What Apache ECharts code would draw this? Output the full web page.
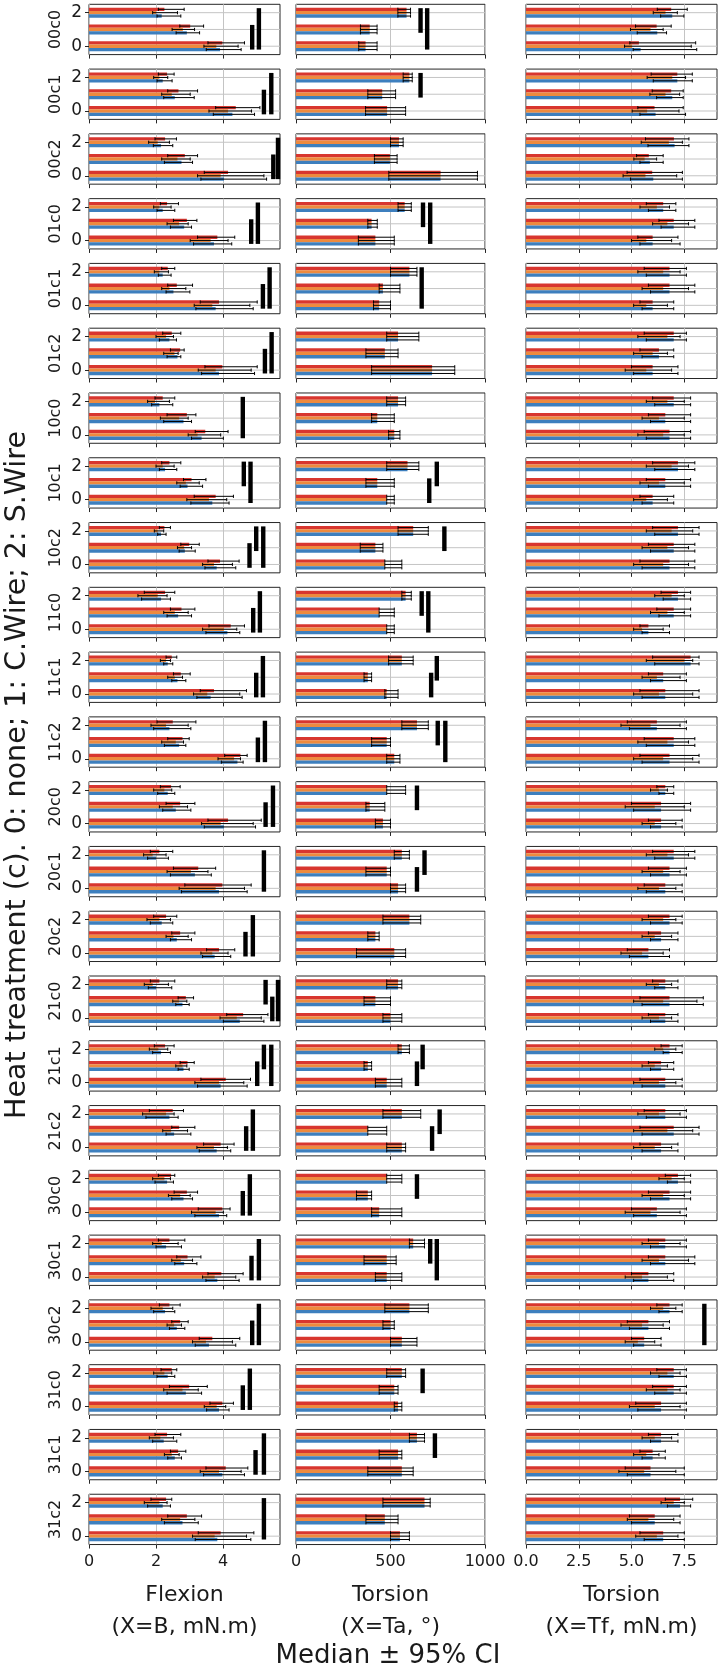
<!DOCTYPE html>
<html>
<head>
<meta charset="utf-8">
<script src="https://cdn.jsdelivr.net/npm/echarts@6/dist/echarts.min.js"></script>
<style>
html, body { margin: 0; padding: 0; background: #fff; }
#chart { width: 721px; height: 1666px; }
</style>
</head>
<body>
<div id="chart"></div>
<script>
// rows of the figure, top to bottom
var rowNames = ['00c0','00c1','00c2','01c0','01c1','01c2','10c0','10c1','10c2','11c0','11c1','11c2',
                '20c0','20c1','20c2','21c0','21c1','21c2','30c0','30c1','30c2','31c0','31c1','31c2'];
var catNames = ['0', '1', '2'];

// Flexion (X=B, mN.m) : per row, per category 0/1/2 -> [median, ci low, ci high]
var flexRed = [
 [[3.98,3.55,4.64],[3.02,2.71,3.42],[2.25,2.07,2.84]],
 [[4.38,3.78,5.10],[2.67,2.35,3.24],[2.33,2.07,2.54]],
 [[4.15,3.44,5.47],[2.86,2.35,3.24],[2.27,1.97,2.61]],
 [[3.83,3.24,4.35],[2.92,2.52,3.22],[2.33,2.13,2.67]],
 [[3.88,3.32,5.02],[2.62,2.35,3.09],[2.35,2.17,2.56]],
 [[3.98,3.46,5.02],[2.72,2.43,2.84],[2.47,2.20,2.74]],
 [[3.47,3.17,4.15],[2.92,2.33,3.19],[2.20,1.97,2.56]],
 [[3.78,3.14,4.31],[3.06,2.82,3.49],[2.40,2.17,2.74]],
 [[3.91,3.55,4.48],[2.99,2.74,3.29],[2.25,2.10,2.43]],
 [[4.23,3.58,4.64],[2.76,2.43,3.16],[2.27,1.65,2.56]],
 [[3.73,3.32,4.70],[2.74,2.52,3.02],[2.47,2.30,2.62]],
 [[4.52,4.05,4.72],[2.79,2.35,2.99],[2.50,2.03,3.19]],
 [[4.15,3.55,5.14],[2.72,2.30,3.16],[2.45,2.13,2.72]],
 [[3.98,2.86,4.84],[3.26,2.52,3.78],[2.10,1.83,2.50]],
 [[3.88,3.51,4.35],[2.72,2.47,3.16],[2.30,1.93,2.62]],
 [[4.60,4.11,5.34],[2.89,2.66,3.12],[2.10,1.83,2.56]],
 [[4.08,3.34,4.82],[2.94,2.72,3.14],[2.27,1.95,2.54]],
 [[3.93,3.42,4.33],[2.69,2.47,3.16],[2.50,1.80,2.82]],
 [[3.98,3.26,4.21],[2.92,2.54,3.24],[2.45,2.07,2.56]],
 [[3.95,3.55,4.60],[2.94,2.62,3.34],[2.40,2.07,2.86]],
 [[3.68,3.29,4.50],[2.72,2.47,2.96],[2.40,2.10,2.72]],
 [[3.98,3.61,4.31],[2.99,2.40,3.53],[2.47,2.15,2.62]],
 [[4.08,3.49,4.74],[2.66,2.43,2.89],[2.33,1.97,2.74]],
 [[3.93,3.26,4.92],[2.92,2.35,3.36],[2.30,1.85,2.47]]
];
var flexOrange = [
 [[3.80,3.43,4.45],[2.80,2.48,3.15],[2.00,1.90,2.64]],
 [[4.15,3.58,4.85],[2.47,2.17,3.02],[2.10,1.93,2.35]],
 [[3.93,3.24,5.22],[2.64,2.17,3.02],[2.05,1.78,2.40]],
 [[3.63,3.02,4.15],[2.69,2.33,2.96],[2.10,1.93,2.45]],
 [[3.68,3.14,4.80],[2.40,2.17,2.89],[2.10,1.95,2.37]],
 [[3.78,3.26,4.84],[2.55,2.23,2.66],[2.30,2.00,2.52]],
 [[3.24,2.96,3.93],[2.69,2.13,2.96],[1.97,1.75,2.40]],
 [[3.58,2.92,4.11],[2.89,2.62,3.29],[2.20,2.00,2.54]],
 [[3.73,3.39,4.28],[2.84,2.64,3.06],[2.05,1.95,2.23]],
 [[4.03,3.39,4.41],[2.56,2.23,2.96],[2.05,1.46,2.33]],
 [[3.53,3.12,4.50],[2.56,2.35,2.79],[2.30,2.13,2.43]],
 [[4.33,3.85,4.52],[2.59,2.17,2.82],[2.30,1.85,2.96]],
 [[3.93,3.36,4.90],[2.50,2.10,2.94],[2.25,1.93,2.47]],
 [[3.78,2.69,4.64],[3.04,2.33,3.55],[1.90,1.63,2.30]],
 [[3.68,3.34,4.15],[2.52,2.30,2.96],[2.10,1.73,2.43]],
 [[4.41,3.91,5.14],[2.69,2.50,2.92],[1.90,1.65,2.37]],
 [[3.88,3.16,4.62],[2.79,2.59,2.92],[2.07,1.80,2.35]],
 [[3.73,3.22,4.13],[2.45,2.20,2.94],[2.30,1.60,2.54]],
 [[3.78,3.06,4.01],[2.72,2.37,3.02],[2.25,1.90,2.43]],
 [[3.75,3.39,4.38],[2.74,2.47,3.09],[2.17,1.90,2.66]],
 [[3.49,3.09,4.28],[2.54,2.33,2.76],[2.20,1.85,2.50]],
 [[3.81,3.44,4.08],[2.79,2.23,3.26],[2.25,1.93,2.47]],
 [[3.88,3.32,4.54],[2.47,2.25,2.69],[2.13,1.80,2.52]],
 [[3.75,3.09,4.70],[2.72,2.17,3.16],[2.10,1.65,2.33]]
];
var flexBlue = [
 [[3.91,3.50,4.54],[2.92,2.60,3.30],[2.17,2.03,2.74]],
 [[4.28,3.71,4.94],[2.56,2.23,3.14],[2.20,2.03,2.48]],
 [[4.03,3.34,5.30],[2.76,2.25,3.09],[2.15,1.92,2.50]],
 [[3.73,3.12,4.26],[2.84,2.43,3.06],[2.20,2.03,2.56]],
 [[3.78,3.19,4.90],[2.52,2.30,3.01],[2.20,2.07,2.45]],
 [[3.88,3.36,4.94],[2.64,2.33,2.74],[2.40,2.10,2.61]],
 [[3.36,3.06,4.01],[2.82,2.23,3.06],[2.10,1.87,2.50]],
 [[3.68,3.04,4.18],[2.94,2.72,3.39],[2.27,2.10,2.62]],
 [[3.81,3.46,4.38],[2.86,2.69,3.17],[2.15,2.05,2.30]],
 [[4.13,3.49,4.50],[2.66,2.33,3.06],[2.15,1.57,2.43]],
 [[3.63,3.22,4.57],[2.64,2.47,2.89],[2.35,2.23,2.50]],
 [[4.43,3.95,4.60],[2.69,2.25,2.89],[2.40,1.93,3.04]],
 [[4.03,3.44,4.97],[2.59,2.20,3.04],[2.35,2.05,2.56]],
 [[3.88,2.76,4.72],[3.16,2.43,3.65],[2.00,1.75,2.37]],
 [[3.75,3.39,4.23],[2.62,2.43,3.06],[2.17,1.83,2.50]],
 [[4.50,4.01,5.22],[2.79,2.59,2.99],[2.00,1.77,2.47]],
 [[3.93,3.24,4.72],[2.82,2.66,2.99],[2.15,1.90,2.43]],
 [[3.81,3.29,4.23],[2.54,2.30,3.04],[2.40,1.70,2.66]],
 [[3.88,3.16,4.11],[2.82,2.47,3.09],[2.33,1.97,2.52]],
 [[3.83,3.49,4.48],[2.84,2.56,3.22],[2.30,2.00,2.76]],
 [[3.58,3.17,4.38],[2.62,2.40,2.86],[2.27,1.93,2.56]],
 [[3.88,3.51,4.18],[2.89,2.33,3.36],[2.35,2.03,2.56]],
 [[3.98,3.42,4.64],[2.56,2.35,2.76],[2.23,1.90,2.62]],
 [[3.83,3.17,4.83],[2.79,2.25,3.26],[2.20,1.75,2.43]]
];
// significance bars: [row, x, from category, to category]
var flexSig = [
 [0,4.87,0,1],[0,5.07,0,2],[1,5.22,0,1],[1,5.44,0,2],[2,5.50,0,1],[2,5.64,0,2],
 [3,4.84,0,1],[3,5.04,0,2],[4,5.19,0,1],[4,5.39,0,2],[5,5.25,0,1],[5,5.45,0,2],
 [6,4.59,0,2],[7,4.62,1,2],[7,4.82,0,2],[8,4.79,0,1],[8,4.99,1,2],[8,5.20,0,2],
 [9,4.90,0,1],[9,5.10,0,2],[10,4.99,0,1],[10,5.19,0,2],[11,5.04,0,1],[11,5.25,0,2],
 [12,5.27,0,1],[12,5.49,0,2],[13,5.22,0,2],[14,4.67,0,1],[14,4.89,0,2],
 [15,5.27,1,2],[15,5.47,0,1],[15,5.64,0,2],[16,5.02,0,1],[16,5.22,1,2],[16,5.44,0,2],
 [17,4.69,0,1],[17,4.89,0,2],[18,4.59,0,1],[18,4.80,0,2],[19,4.85,0,1],[19,5.07,0,2],
 [20,4.87,0,1],[20,5.07,0,2],[21,4.59,0,1],[21,4.80,0,2],[22,4.97,0,1],[22,5.22,0,2],
 [23,5.22,0,2]
];

// Torsion (X=Ta, deg): the three groups overlap almost exactly
var taRed = [
 [[368,332,429],[390,341,429],[585,539,606]],
 [[482,368,580],[456,380,527],[600,567,615]],
 [[765,491,960],[497,415,535],[545,500,567]],
 [[420,330,520],[400,380,430],[575,540,610]],
 [[440,410,500],[460,440,550],[600,500,640]],
 [[720,400,840],[470,370,540],[540,480,650]],
 [[520,490,550],[430,400,520],[540,480,580]],
 [[480,480,520],[430,370,520],[590,480,650]],
 [[470,470,560],[420,340,460],[620,540,700]],
 [[480,480,520],[440,440,520],[580,560,610]],
 [[480,470,540],[380,360,400],[560,490,620]],
 [[520,480,550],[480,400,500],[640,560,700]],
 [[460,420,500],[390,370,470],[480,480,580]],
 [[540,500,580],[480,370,500],[560,520,600]],
 [[520,320,580],[420,380,440],[600,460,660]],
 [[500,460,560],[420,360,500],[540,480,560]],
 [[480,420,560],[380,360,400],[560,540,600]],
 [[560,480,580],[380,380,480],[560,460,660]],
 [[440,400,560],[380,320,400],[480,480,560]],
 [[480,420,560],[480,360,530],[620,600,680]],
 [[560,500,640],[500,460,520],[600,470,700]],
 [[540,520,560],[520,440,540],[560,480,580]],
 [[560,380,620],[540,440,560],[640,600,680]],
 [[550,500,600],[470,370,540],[680,460,710]]
];
var taOrange = taRed;
var taBlue = taRed;
var taSig = [
 [0,659,1,2],[0,694,0,2],[1,659,1,2],[3,672,1,2],[3,710,0,2],[4,665,0,2],
 [7,745,1,2],[7,705,0,1],[8,785,1,2],[9,665,1,2],[9,700,0,2],[10,745,1,2],[10,715,0,1],
 [11,750,1,2],[11,790,0,2],[12,640,1,2],[13,680,1,2],[13,640,0,1],[16,670,1,2],[16,640,0,1],
 [17,760,1,2],[17,720,0,1],[18,640,1,2],[19,710,1,2],[19,745,0,2],[21,670,1,2],[22,735,1,2]
];

// Torsion (X=Tf, mN.m)
var tfRed = [
 [[5.35,4.92,8.04],[6.19,5.19,6.88],[6.88,6.22,7.64]],
 [[6.09,5.30,7.45],[6.88,5.98,7.45],[7.17,5.93,7.88]],
 [[5.98,4.79,7.41],[5.82,5.24,6.50],[7.01,5.66,7.72]],
 [[6.0,5.3,7.2],[7.0,6.3,8.0],[6.5,5.7,7.1]],
 [[6.0,5.4,7.0],[6.8,5.8,8.0],[6.8,5.6,7.6]],
 [[6.0,5.0,7.2],[6.3,5.4,7.0],[7.0,5.6,7.6]],
 [[6.8,5.6,7.8],[6.6,5.8,7.8],[7.0,6.0,7.8]],
 [[6.0,5.4,7.0],[6.6,5.7,7.8],[7.2,6.0,8.0]],
 [[6.8,5.4,8.0],[7.0,5.8,8.0],[7.2,6.0,8.2]],
 [[5.8,5.4,6.8],[7.0,6.2,7.8],[7.2,6.4,7.8]],
 [[6.6,5.4,8.2],[6.5,5.8,7.6],[7.8,6.0,8.2]],
 [[6.8,5.4,8.2],[7.0,5.6,8.0],[6.2,4.8,7.6]],
 [[6.4,5.8,7.4],[6.4,5.0,7.8],[6.6,6.2,7.0]],
 [[6.6,5.6,7.4],[6.8,5.8,7.6],[7.0,6.0,8.0]],
 [[5.8,4.8,6.8],[6.4,5.8,7.2],[6.8,5.8,7.4]],
 [[6.6,5.8,7.2],[6.8,5.4,8.4],[6.6,6.0,7.2]],
 [[6.6,5.4,7.4],[6.4,5.8,7.0],[6.8,6.4,7.4]],
 [[6.4,5.4,7.2],[7.0,5.4,8.2],[6.6,5.6,7.6]],
 [[6.2,5.0,7.6],[6.8,5.8,7.8],[7.2,6.6,7.8]],
 [[5.8,5.0,7.0],[6.6,5.8,8.0],[6.6,5.8,7.6]],
 [[5.6,5.0,6.4],[5.8,4.8,6.8],[6.8,6.2,7.4]],
 [[6.4,5.2,7.6],[7.0,6.0,7.6],[7.0,6.2,7.6]],
 [[5.9,4.7,7.5],[6.0,5.4,6.6],[6.4,5.8,7.2]],
 [[6.5,5.4,7.5],[6.1,4.9,7.3],[7.3,6.6,7.9]]
];
var tfOrange = [
 [[5.03,4.67,7.83],[5.90,4.95,6.50],[6.61,6.03,7.17]],
 [[5.74,5.03,7.25],[6.61,5.87,7.28],[6.93,5.74,7.56]],
 [[5.66,4.60,7.14],[5.62,5.11,6.19],[6.77,5.46,7.41]],
 [[5.7,5.0,6.9],[6.7,6.0,7.7],[6.2,5.4,6.8]],
 [[5.7,5.1,6.7],[6.5,5.5,7.7],[6.5,5.3,7.3]],
 [[5.7,4.7,6.9],[6.0,5.1,6.7],[6.7,5.3,7.3]],
 [[6.5,5.3,7.5],[6.3,5.5,7.5],[6.7,5.7,7.5]],
 [[5.7,5.1,6.7],[6.3,5.4,7.5],[6.9,5.7,7.7]],
 [[6.5,5.1,7.7],[6.7,5.5,7.7],[6.9,5.7,7.9]],
 [[5.5,5.1,6.5],[6.7,5.9,7.5],[6.9,6.1,7.5]],
 [[6.3,5.1,7.9],[6.2,5.5,7.3],[7.5,5.7,7.9]],
 [[6.5,5.1,7.9],[6.7,5.3,7.7],[5.9,4.5,7.3]],
 [[6.1,5.5,7.1],[6.1,4.7,7.5],[6.3,5.9,6.7]],
 [[6.3,5.3,7.1],[6.5,5.5,7.3],[6.7,5.7,7.7]],
 [[5.5,4.5,6.5],[6.1,5.5,6.9],[6.5,5.5,7.1]],
 [[6.3,5.5,6.9],[6.5,5.1,8.1],[6.3,5.7,6.9]],
 [[6.3,5.1,7.1],[6.1,5.5,6.7],[6.5,6.1,7.1]],
 [[6.1,5.1,6.9],[6.7,5.1,7.9],[6.3,5.3,7.3]],
 [[5.9,4.7,7.3],[6.5,5.5,7.5],[6.9,6.3,7.5]],
 [[5.5,4.7,6.7],[6.3,5.5,7.7],[6.3,5.5,7.3]],
 [[5.3,4.7,6.1],[5.5,4.5,6.5],[6.5,5.9,7.1]],
 [[6.1,4.9,7.3],[6.7,5.7,7.3],[6.7,5.9,7.3]],
 [[5.6,4.4,7.1],[5.7,5.1,6.3],[6.1,5.5,6.9]],
 [[6.2,5.2,7.2],[5.8,4.8,7.0],[7.0,6.4,7.5]]
];
var tfBlue = [
 [[5.43,5.08,8.09],[6.22,5.27,6.66],[6.93,6.38,7.48]],
 [[6.14,5.40,7.56],[6.93,6.19,7.45],[7.17,6.03,7.88]],
 [[6.03,4.95,7.41],[5.87,5.40,6.50],[7.04,5.78,7.72]],
 [[6.0,5.4,7.3],[7.0,6.4,8.0],[6.5,5.8,7.1]],
 [[6.0,5.5,7.0],[6.8,5.9,8.0],[6.8,5.7,7.6]],
 [[6.0,5.1,7.2],[6.3,5.5,7.0],[7.0,5.7,7.6]],
 [[6.8,5.7,7.8],[6.6,5.9,7.8],[7.0,6.1,7.8]],
 [[6.0,5.5,7.0],[6.6,5.8,7.8],[7.2,6.1,8.0]],
 [[6.8,5.5,8.0],[7.0,5.9,8.0],[7.2,6.1,8.2]],
 [[5.8,5.5,6.8],[7.0,6.3,7.8],[7.2,6.5,7.8]],
 [[6.6,5.5,8.2],[6.5,5.9,7.6],[7.8,6.1,8.2]],
 [[6.8,5.5,8.2],[7.0,5.7,8.0],[6.2,4.9,7.6]],
 [[6.4,5.9,7.4],[6.4,5.1,7.8],[6.6,6.3,7.0]],
 [[6.6,5.7,7.4],[6.8,5.9,7.6],[7.0,6.1,8.0]],
 [[5.8,4.9,6.8],[6.4,5.9,7.2],[6.8,5.9,7.4]],
 [[6.6,5.9,7.2],[6.8,5.5,8.4],[6.6,6.1,7.2]],
 [[6.6,5.5,7.4],[6.4,5.9,7.0],[6.8,6.5,7.4]],
 [[6.4,5.5,7.2],[7.0,5.5,8.2],[6.6,5.7,7.6]],
 [[6.2,5.1,7.6],[6.8,5.9,7.8],[7.2,6.7,7.8]],
 [[5.8,5.1,7.0],[6.6,5.9,8.0],[6.6,5.9,7.6]],
 [[5.6,5.1,6.4],[5.8,4.9,6.8],[6.8,6.3,7.4]],
 [[6.4,5.3,7.6],[7.0,6.1,7.6],[7.0,6.3,7.6]],
 [[5.9,4.8,7.5],[6.0,5.5,6.6],[6.4,5.9,7.2]],
 [[6.5,5.6,7.5],[6.1,5.0,7.3],[7.3,6.7,7.8]]
];
var tfSig = [[20,8.45,0,2]];

(function () {
    var FONT = 'DejaVu Sans';
    var colors = ['#d8362f', '#ee8a3e', '#3d7fbe'];

    var panels = [
        {left: 89, width: 191, max: 5.7, interval: 2, ticks: [0, 2, 4], dec: 0,
         name: 'Flexion\n(X=B, mN.m)', sets: [flexRed, flexOrange, flexBlue], sig: flexSig},
        {left: 296, width: 189, max: 1000, interval: 500, ticks: [0, 500, 1000], dec: 0,
         name: 'Torsion\n(X=Ta, °)', sets: [taRed, taOrange, taBlue], sig: taSig},
        {left: 526, width: 191, max: 9.05, interval: 2.5, ticks: [0, 2.5, 5, 7.5], dec: 1,
         name: 'Torsion\n(X=Tf, mN.m)', sets: [tfRed, tfOrange, tfBlue], sig: tfSig}
    ];

    var rowTop0 = 4.3, rowStep = 64.78, rowH = 50.3;
    var last = rowNames.length - 1;

    var grids = [], xAxes = [], yAxes = [], series = [];

    for (var r = 0; r < rowNames.length; r++) {
        for (var p = 0; p < panels.length; p++) {
            var pan = panels[p];
            var gi = grids.length;
            grids.push({
                left: pan.left, top: rowTop0 + r * rowStep, width: pan.width, height: rowH,
                show: true, borderColor: '#262626', borderWidth: 1, backgroundColor: '#fff'
            });
            xAxes.push({
                type: 'value', gridIndex: gi, min: 0, max: pan.max, interval: pan.interval,
                axisLine: {show: false},
                axisTick: {show: true, length: 4, customValues: pan.ticks, lineStyle: {color: '#262626'}},
                axisLabel: {
                    show: r === last, customValues: pan.ticks, margin: 9,
                    fontFamily: FONT, fontSize: 16, color: '#1a1a1a',
                    formatter: (function (d) { return function (v) { return v.toFixed(d); }; })(pan.dec)
                },
                splitLine: {show: true, lineStyle: {color: '#c4c4c4', width: 1}},
                name: r === last ? pan.name : '',
                nameLocation: 'middle', nameGap: 35,
                nameTextStyle: {fontFamily: FONT, fontSize: 22, lineHeight: 32, color: '#1a1a1a'}
            });
            yAxes.push({
                type: 'category', gridIndex: gi, data: catNames,
                axisLine: {show: false},
                axisTick: {show: p === 0, alignWithLabel: true, length: 4, lineStyle: {color: '#262626'}},
                axisLabel: {show: p === 0, fontFamily: FONT, fontSize: 17, color: '#1a1a1a', margin: 7},
                splitLine: {show: false},
                name: p === 0 ? rowNames[r] : '',
                nameLocation: 'middle', nameRotate: 90, nameGap: 25,
                nameTextStyle: {fontFamily: FONT, fontSize: 16, color: '#1a1a1a'}
            });

            // horizontal grid lines through the category centres
            series.push({
                type: 'custom', xAxisIndex: gi, yAxisIndex: gi, z: 1, silent: true,
                data: [0, 1, 2],
                encode: {y: 0},
                renderItem: function (params, api) {
                    var cs = params.coordSys;
                    var y = api.coord([0, api.value(0)])[1];
                    return {type: 'line', shape: {x1: cs.x, y1: y, x2: cs.x + cs.width, y2: y},
                            style: {stroke: '#c4c4c4', lineWidth: 1}};
                }
            });

            // the three bar groups (median)
            var errData = [];
            for (var k = 0; k < 3; k++) {
                var set = pan.sets[k][r];
                series.push({
                    type: 'bar', xAxisIndex: gi, yAxisIndex: gi, z: 2,
                    barGap: '0%', barCategoryGap: '40%',
                    itemStyle: {color: colors[k]},
                    silent: true,
                    data: set.map(function (v) { return v[0]; })
                });
                for (var c = 0; c < 3; c++) {
                    errData.push([c, k, set[c][1], set[c][2]]);
                }
            }

            // 95% CI whiskers
            series.push({
                type: 'custom', xAxisIndex: gi, yAxisIndex: gi, z: 3, silent: true,
                data: errData,
                encode: {y: 0, x: [2, 3]},
                renderItem: function (params, api) {
                    var band = api.size([0, 1])[1];
                    var bw = band * 0.2;
                    var k = api.value(1);
                    var a = api.coord([api.value(2), api.value(0)]);
                    var b = api.coord([api.value(3), api.value(0)]);
                    var y = a[1] + (k - 1) * bw;
                    var st = {stroke: '#000', lineWidth: 1};
                    return {type: 'group', children: [
                        {type: 'line', shape: {x1: a[0], y1: y, x2: b[0], y2: y}, style: st},
                        {type: 'line', shape: {x1: a[0], y1: y - 1.6, x2: a[0], y2: y + 1.6}, style: st},
                        {type: 'line', shape: {x1: b[0], y1: y - 1.6, x2: b[0], y2: y + 1.6}, style: st}
                    ]};
                }
            });

            // significance bars
            var sigData = pan.sig.filter(function (s) { return s[0] === r; })
                                 .map(function (s) { return [s[1], s[2], s[3]]; });
            if (sigData.length) {
                series.push({
                    type: 'custom', xAxisIndex: gi, yAxisIndex: gi, z: 4, silent: true,
                    data: sigData,
                    encode: {x: 0, y: [1, 2]},
                    renderItem: function (params, api) {
                        var band = api.size([0, 1])[1];
                        var lo = api.coord([api.value(0), api.value(1)]);
                        var hi = api.coord([api.value(0), api.value(2)]);
                        var y1 = hi[1] - band * 0.27;
                        var y2 = lo[1] + band * 0.2;
                        return {type: 'rect', shape: {x: lo[0] - 2.2, y: y1, width: 4.4, height: y2 - y1},
                                style: {fill: '#000'}};
                    }
                });
            }
        }
    }

    var myChart = echarts.init(document.getElementById('chart'));
    var option = {
        animation: false,
        backgroundColor: '#fff',
        textStyle: {fontFamily: FONT},
        grid: grids,
        xAxis: xAxes,
        yAxis: yAxes,
        series: series,
        graphic: [
            {type: 'text', x: 18, y: 775, rotation: Math.PI / 2,
             style: {text: 'Heat treatment (c). 0: none; 1: C.Wire; 2: S.Wire', fontFamily: FONT,
                     fontSize: 28.5, fill: '#1a1a1a', align: 'center', verticalAlign: 'middle'}},
            {type: 'text', x: 388, y: 1656,
             style: {text: 'Median ± 95% CI', fontFamily: FONT, fontSize: 26, fill: '#1a1a1a',
                     align: 'center', verticalAlign: 'middle'}}
        ]
    };
    myChart.setOption(option);
})();
</script>
</body>
</html>
